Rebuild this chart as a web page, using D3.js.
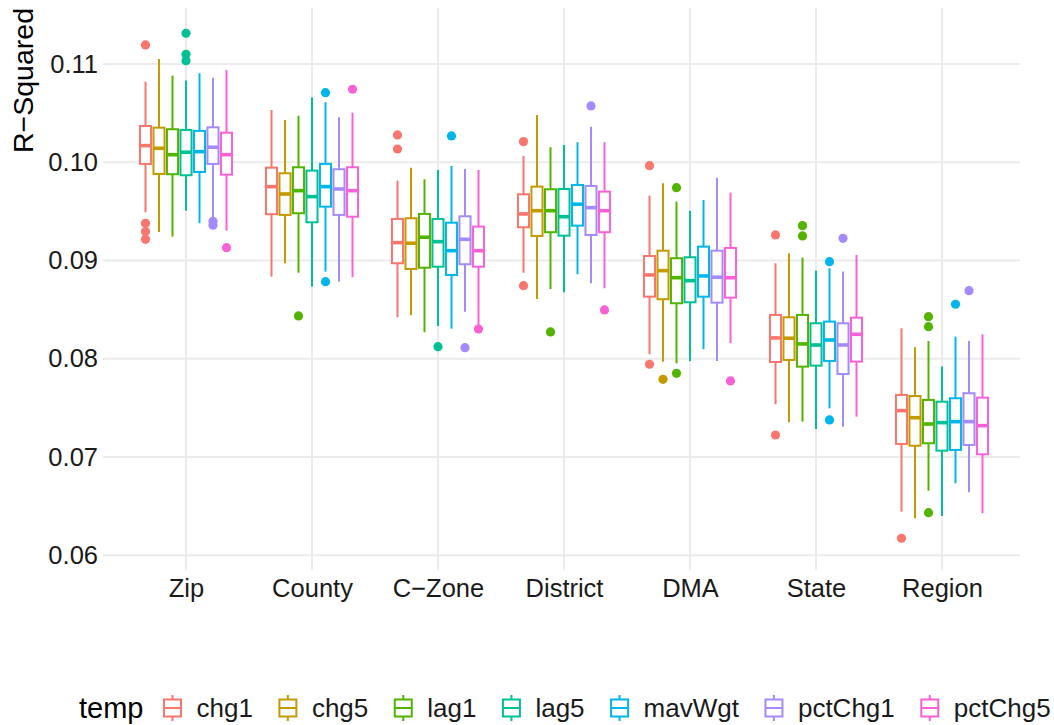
<!DOCTYPE html>
<html>
<head>
<meta charset="utf-8">
<script src="https://cdn.jsdelivr.net/npm/d3@7"></script>
<style>
  body { margin: 0; background: #fff; }
  text { font-family: "Liberation Sans", Arial, Helvetica, sans-serif; }
</style>
</head>
<body>
<svg id="chart" width="1054" height="725"></svg>
<script>
const categories = ["Zip", "County", "C\u2212Zone", "District", "DMA", "State", "Region"];
const seriesNames = ["chg1", "chg5", "lag1", "lag5", "mavWgt", "pctChg1", "pctChg5"];
const seriesColors = ["#F8766D", "#C49A00", "#53B400", "#00C094", "#00B6EB", "#A58AFF", "#FB61D7"];
const yTicks = [0.06, 0.07, 0.08, 0.09, 0.10, 0.11];

// per category: [lower whisker, q1, median, q3, upper whisker]
const chg1 = [
  [0.09491, 0.09983, 0.10169, 0.10369, 0.10820],
  [0.08836, 0.09471, 0.09752, 0.09945, 0.10532],
  [0.08422, 0.08972, 0.09182, 0.09423, 0.09813],
  [0.08876, 0.09338, 0.09474, 0.09674, 0.10064],
  [0.08046, 0.08632, 0.08853, 0.09046, 0.09660],
  [0.07537, 0.07967, 0.08212, 0.08446, 0.08972],
  [0.06444, 0.07133, 0.07472, 0.07632, 0.08310]
];
const chg5 = [
  [0.09291, 0.09881, 0.10142, 0.10352, 0.11051],
  [0.08972, 0.09464, 0.09677, 0.09888, 0.10431],
  [0.08443, 0.08914, 0.09176, 0.09430, 0.09945],
  [0.08609, 0.09250, 0.09507, 0.09752, 0.10481],
  [0.07970, 0.08606, 0.08897, 0.09100, 0.09786],
  [0.07354, 0.07988, 0.08209, 0.08422, 0.09074],
  [0.06377, 0.07115, 0.07400, 0.07621, 0.08117]
];
const lag1 = [
  [0.09243, 0.09878, 0.10077, 0.10336, 0.10881],
  [0.08876, 0.09481, 0.09711, 0.09949, 0.10474],
  [0.08270, 0.08927, 0.09237, 0.09474, 0.09827],
  [0.08710, 0.09288, 0.09507, 0.09725, 0.10153],
  [0.07954, 0.08565, 0.08825, 0.09023, 0.09599],
  [0.07360, 0.07920, 0.08151, 0.08446, 0.09029],
  [0.06657, 0.07140, 0.07336, 0.07581, 0.08181]
];
const lag5 = [
  [0.09507, 0.09868, 0.10102, 0.10329, 0.10831],
  [0.08734, 0.09389, 0.09650, 0.09915, 0.10662],
  [0.08334, 0.08937, 0.09192, 0.09423, 0.09922],
  [0.08677, 0.09253, 0.09446, 0.09728, 0.10176],
  [0.07978, 0.08575, 0.08795, 0.09033, 0.09507],
  [0.07285, 0.07930, 0.08140, 0.08361, 0.08897],
  [0.06400, 0.07065, 0.07350, 0.07563, 0.07920]
];
const mavWgt = [
  [0.09379, 0.09901, 0.10108, 0.10319, 0.10906],
  [0.08887, 0.09548, 0.09752, 0.09983, 0.10611],
  [0.08306, 0.08853, 0.09100, 0.09385, 0.09962],
  [0.08860, 0.09355, 0.09573, 0.09769, 0.10204],
  [0.08097, 0.08632, 0.08843, 0.09141, 0.09616],
  [0.07496, 0.07978, 0.08191, 0.08378, 0.08921],
  [0.06733, 0.07072, 0.07360, 0.07598, 0.08225]
];
const pctChg1 = [
  [0.09413, 0.09983, 0.10153, 0.10356, 0.10861],
  [0.08785, 0.09464, 0.09728, 0.09929, 0.10458],
  [0.08479, 0.08962, 0.09216, 0.09450, 0.09932],
  [0.08768, 0.09260, 0.09538, 0.09759, 0.10362],
  [0.07978, 0.08571, 0.08830, 0.09100, 0.09843],
  [0.07309, 0.07845, 0.08140, 0.08361, 0.08887],
  [0.06641, 0.07123, 0.07360, 0.07649, 0.08181]
];
const pctChg5 = [
  [0.09304, 0.09874, 0.10077, 0.10301, 0.10939],
  [0.08830, 0.09446, 0.09711, 0.09949, 0.10505],
  [0.08344, 0.08937, 0.09100, 0.09345, 0.09922],
  [0.08718, 0.09288, 0.09507, 0.09701, 0.10204],
  [0.08158, 0.08622, 0.08825, 0.09128, 0.09691],
  [0.07411, 0.07971, 0.08249, 0.08418, 0.09056],
  [0.06427, 0.07028, 0.07319, 0.07604, 0.08249]
];

// outliers: [category index, value]
const chg1Out = [[0, 0.11194], [0, 0.09379], [0, 0.09294], [0, 0.09216], [2, 0.10278], [2, 0.10135],
  [3, 0.10210], [3, 0.08744], [4, 0.09965], [4, 0.07944], [5, 0.09260], [5, 0.07224], [6, 0.06173]];
const chg5Out = [[4, 0.07791]];
const lag1Out = [[1, 0.08436], [3, 0.08273], [4, 0.09741], [4, 0.07852], [5, 0.09355], [5, 0.09250],
  [6, 0.08428], [6, 0.08327], [6, 0.06433]];
const lag5Out = [[0, 0.11313], [0, 0.11099], [0, 0.11034], [2, 0.08123]];
const mavWgtOut = [[1, 0.10708], [1, 0.08785], [2, 0.10268], [5, 0.08988], [5, 0.07377], [6, 0.08555]];
const pctChg1Out = [[0, 0.09399], [0, 0.09359], [2, 0.08113], [3, 0.10573], [5, 0.09226], [6, 0.08693]];
const pctChg5Out = [[0, 0.09131], [1, 0.10743], [2, 0.08303], [3, 0.08497], [4, 0.07774]];

const statsBySeries = { chg1, chg5, lag1, lag5, mavWgt, pctChg1, pctChg5 };
const outBySeries = { chg1: chg1Out, chg5: chg5Out, lag1: lag1Out, lag5: lag5Out,
  mavWgt: mavWgtOut, pctChg1: pctChg1Out, pctChg5: pctChg5Out };

const panel = { left: 103, right: 1020, top: 8, bottom: 570 };
const svg = d3.select('#chart');

const x = d3.scalePoint().domain(categories).range([186, 942]);
const dodge = d3.scaleBand().domain(seriesNames).range([-47.25, 47.25]);
const y = d3.scaleLinear().domain([0.0585, 0.1157]).range([panel.bottom, panel.top]);
const color = d3.scaleOrdinal().domain(seriesNames).range(seriesColors);

// grid
const grid = svg.append('g');
grid.selectAll('.hgrid').data(yTicks).enter().append('line')
  .attr('x1', panel.left).attr('x2', panel.right)
  .attr('y1', d => y(d)).attr('y2', d => y(d))
  .attr('stroke', '#EBEBEB').attr('stroke-width', 2);
grid.selectAll('.vgrid').data(categories).enter().append('line')
  .attr('x1', d => x(d)).attr('x2', d => x(d))
  .attr('y1', panel.top).attr('y2', panel.bottom)
  .attr('stroke', '#EBEBEB').attr('stroke-width', 2);

// axes
const yAxis = svg.append('g').attr('transform', `translate(${panel.left},0)`)
  .call(d3.axisLeft(y).tickValues(yTicks).tickFormat(d3.format('.2f')).tickSize(0).tickPadding(5));
yAxis.select('.domain').remove();
yAxis.selectAll('text').attr('font-size', 25.5).attr('fill', '#1a1a1a')
  .style('font-family', '"Liberation Sans", Arial, sans-serif');

const xAxis = svg.append('g').attr('transform', `translate(0,${panel.bottom})`)
  .call(d3.axisBottom(x).tickSize(0).tickPadding(9));
xAxis.select('.domain').remove();
xAxis.selectAll('text').attr('font-size', 25.5).attr('fill', '#1a1a1a')
  .style('font-family', '"Liberation Sans", Arial, sans-serif');

svg.append('text')
  .attr('transform', 'translate(33,8) rotate(-90)')
  .attr('text-anchor', 'end')
  .attr('font-size', 28.5)
  .attr('fill', '#000')
  .text('R\u2212Squared');

// boxes
const boxW = dodge.bandwidth() * 0.82;
const boxes = svg.append('g');
categories.forEach((cat, ci) => {
  seriesNames.forEach(s => {
    const [lo, q1, med, q3, hi] = statsBySeries[s][ci];
    const cx = x(cat) + dodge(s) + dodge.bandwidth() / 2;
    const c = color(s);
    const g = boxes.append('g');
    g.append('line').attr('x1', cx).attr('x2', cx).attr('y1', y(hi)).attr('y2', y(q3))
      .attr('stroke', c).attr('stroke-width', 2);
    g.append('line').attr('x1', cx).attr('x2', cx).attr('y1', y(q1)).attr('y2', y(lo))
      .attr('stroke', c).attr('stroke-width', 2);
    g.append('rect').attr('x', cx - boxW / 2).attr('y', y(q3))
      .attr('width', boxW).attr('height', y(q1) - y(q3))
      .attr('fill', '#fff').attr('stroke', c).attr('stroke-width', 2);
    g.append('line').attr('x1', cx - boxW / 2).attr('x2', cx + boxW / 2)
      .attr('y1', y(med)).attr('y2', y(med))
      .attr('stroke', c).attr('stroke-width', 3.6);
    g.selectAll('circle').data(outBySeries[s].filter(o => o[0] === ci)).enter().append('circle')
      .attr('cx', cx).attr('cy', o => y(o[1])).attr('r', 4.6).attr('fill', c);
  });
});

// legend
const legend = svg.append('g');
const ly = 708;
let lx = 79;
const lt = legend.append('text').attr('x', lx).attr('y', ly + 10)
  .attr('font-size', 29).attr('fill', '#000').text('temp');
lx += lt.node().getComputedTextLength() + 18;
seriesNames.forEach(s => {
  const c = color(s);
  const kc = lx + 11;
  legend.append('line').attr('x1', kc).attr('x2', kc).attr('y1', ly - 13).attr('y2', ly + 13)
    .attr('stroke', c).attr('stroke-width', 2);
  legend.append('rect').attr('x', kc - 8.5).attr('y', ly - 8.5).attr('width', 17).attr('height', 17)
    .attr('fill', '#fff').attr('stroke', c).attr('stroke-width', 2);
  legend.append('line').attr('x1', kc - 8.5).attr('x2', kc + 8.5).attr('y1', ly).attr('y2', ly)
    .attr('stroke', c).attr('stroke-width', 2);
  const t = legend.append('text').attr('x', lx + 22 + 13).attr('y', ly + 9)
    .attr('font-size', 26).attr('fill', '#1a1a1a').text(s);
  lx += 22 + 13 + t.node().getComputedTextLength() + 24;
});
</script>
</body>
</html>
